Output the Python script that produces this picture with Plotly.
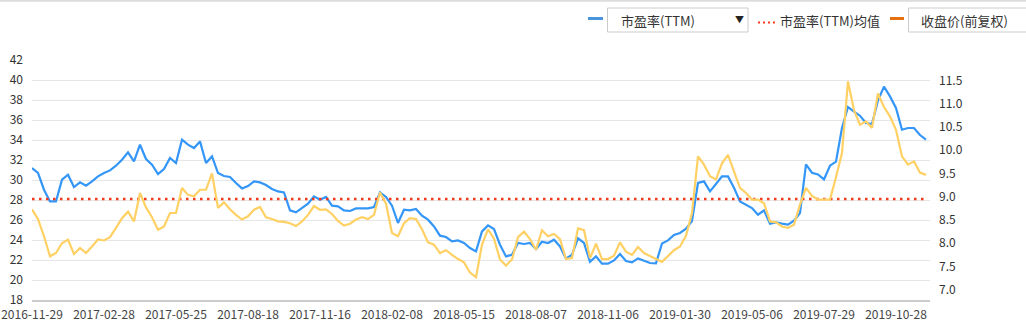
import pandas as pd
import plotly.graph_objects as go

# ---------------- data ----------------
TICK_DATES = ["2016-11-29", "2017-02-28", "2017-05-25", "2017-08-18", "2017-11-16",
              "2018-02-08", "2018-05-15", "2018-08-07", "2018-11-06", "2019-01-30",
              "2019-05-06", "2019-07-29", "2019-10-28"]

PE_TTM = [31.20, 30.70, 29.03, 27.86, 27.86, 30.03, 30.53, 29.30, 29.76, 29.43,
          29.86, 30.36, 30.70, 30.96, 31.43, 32.03, 32.76, 31.86, 33.53, 32.10,
          31.53, 30.60, 31.10, 32.20, 31.70, 34.03, 33.53, 33.20, 33.86, 31.70,
          32.36, 30.70, 30.40, 30.30, 29.70, 29.16, 29.40, 29.86, 29.76, 29.50,
          29.10, 28.86, 28.76, 26.96, 26.76, 27.16, 27.63, 28.36, 28.03, 28.30,
          27.43, 27.36, 26.96, 26.90, 27.16, 27.16, 27.16, 27.30, 28.76, 28.30,
          27.43, 25.70, 27.03, 26.96, 27.10, 26.43, 26.03, 25.36, 24.43, 24.30,
          23.86, 23.96, 23.70, 23.20, 22.86, 24.86, 25.46, 25.10, 23.53, 22.36,
          22.53, 23.70, 23.60, 23.70, 23.10, 23.83, 23.70, 24.03, 23.36, 22.13,
          22.53, 24.16, 23.70, 21.83, 22.36, 21.63, 21.63, 21.96, 22.60, 21.90,
          21.76, 22.16, 21.90, 21.70, 21.66, 23.66, 23.96, 24.50, 24.70, 25.13,
          25.90, 29.70, 29.86, 28.86, 29.60, 30.36, 30.36, 29.23, 27.86, 27.53,
          27.20, 26.53, 26.96, 25.63, 25.76, 25.63, 25.53, 25.93, 26.70, 31.56,
          30.73, 30.56, 30.06, 31.43, 31.83, 35.20, 37.30, 36.83, 36.43, 35.70,
          35.60, 37.96, 39.33, 38.36, 37.20, 35.03, 35.20, 35.20, 34.50, 34.03]

CLOSE_PRICE = [8.73, 8.52, 8.15, 7.72, 7.79, 8.00, 8.08, 7.77, 7.90, 7.79,
               7.93, 8.08, 8.06, 8.13, 8.33, 8.54, 8.68, 8.47, 9.08, 8.77,
               8.56, 8.29, 8.36, 8.65, 8.65, 9.19, 9.04, 9.01, 9.15, 9.15,
               9.50, 8.76, 8.88, 8.73, 8.61, 8.51, 8.58, 8.72, 8.78, 8.56,
               8.52, 8.47, 8.46, 8.43, 8.37, 8.47, 8.61, 8.80, 8.72, 8.73,
               8.63, 8.48, 8.38, 8.42, 8.51, 8.56, 8.52, 8.61, 9.09, 8.85,
               8.22, 8.15, 8.43, 8.54, 8.52, 8.30, 8.02, 7.97, 7.79, 7.85,
               7.75, 7.66, 7.59, 7.37, 7.27, 7.97, 8.30, 8.10, 7.65, 7.52,
               7.65, 8.13, 8.25, 8.09, 7.86, 8.28, 8.15, 8.20, 8.09, 7.66,
               7.68, 8.32, 8.28, 7.68, 7.99, 7.66, 7.66, 7.73, 8.02, 7.82,
               7.75, 7.92, 7.79, 7.72, 7.66, 7.60, 7.73, 7.85, 7.93, 8.16,
               8.65, 9.87, 9.69, 9.44, 9.37, 9.72, 9.90, 9.55, 9.19, 9.08,
               8.94, 8.94, 8.86, 8.47, 8.45, 8.36, 8.33, 8.40, 8.83, 9.19,
               9.02, 8.94, 8.94, 8.94, 9.42, 9.94, 11.48, 10.86, 10.55, 10.62,
               10.48, 11.22, 10.93, 10.73, 10.44, 9.87, 9.69, 9.76, 9.52, 9.47]

PE_MEAN = 28.1

LEFT_TICKS = [18, 20, 22, 24, 26, 28, 30, 32, 34, 36, 38, 40, 42]
RIGHT_TICKS = [7.0, 7.5, 8.0, 8.5, 9.0, 9.5, 10.0, 10.5, 11.0, 11.5]

# weekly sample dates between the labelled trading dates (category axis)
dates = []
for a, b in zip(TICK_DATES[:-1], TICK_DATES[1:]):
    dates += [d.strftime("%Y-%m-%d") for d in pd.date_range(a, b, periods=13)[:-1]]
dates += [d.strftime("%Y-%m-%d") for d in pd.date_range(TICK_DATES[-1], periods=6, freq="7D")]

# ---------------- layout helpers ----------------
W, H = 1026, 336
L, R, T, B = 32, 96, 60, 36
def px(x):
    return (x - L) / (W - L - R)
def py(y):
    return (H - B - y) / (H - T - B)

FONT = "Noto Sans CJK SC, Microsoft YaHei, sans-serif"
BLUE = "#3496F7"
YELLOW = "#FFD165"
RED = "#F5391C"

fig = go.Figure()
fig.add_trace(go.Scatter(x=dates, y=PE_TTM, mode="lines", name="市盈率(TTM)",
                         line=dict(color=BLUE, width=2.2), yaxis="y"))
fig.add_trace(go.Scatter(x=dates, y=[PE_MEAN] * len(dates), mode="lines", name="市盈率(TTM)均值",
                         line=dict(color=RED, width=2.5, dash="2.5px,4.5px"), yaxis="y"))
fig.add_trace(go.Scatter(x=dates, y=CLOSE_PRICE, mode="lines", name="收盘价(前复权)",
                         line=dict(color=YELLOW, width=2.2), yaxis="y2"))

shapes = [
    dict(type="line", xref="paper", yref="paper", x0=px(0), x1=px(W), y0=py(0.8), y1=py(0.8),
         line=dict(color="#dddddd", width=2)),
    dict(type="line", xref="paper", yref="paper", x0=px(588), x1=px(603), y0=py(18.5), y1=py(18.5),
         line=dict(color="#4A94DC", width=3)),
    dict(type="rect", xref="paper", yref="paper", x0=px(607.5), x1=px(748), y0=py(8), y1=py(32),
         line=dict(color="#cccccc", width=1), fillcolor="white"),
    dict(type="line", xref="paper", yref="paper", x0=px(758), x1=px(778), y0=py(22.5), y1=py(22.5),
         line=dict(color=RED, width=2, dash="2px,3px")),
    dict(type="line", xref="paper", yref="paper", x0=px(890), x1=px(904), y0=py(18.5), y1=py(18.5),
         line=dict(color="#E5700F", width=3)),
    dict(type="rect", xref="paper", yref="paper", x0=px(908.5), x1=px(1040), y0=py(8), y1=py(32),
         line=dict(color="#cccccc", width=1), fillcolor="white"),
]

ann_font = dict(family=FONT, size=13, color="#333333")
annotations = [
    dict(text="市盈率(TTM)", xref="paper", yref="paper", x=px(619), y=py(21),
         xanchor="left", yanchor="middle", showarrow=False, font=ann_font),
    dict(text="▼", xref="paper", yref="paper", x=px(739), y=py(20),
         xanchor="center", yanchor="middle", showarrow=False,
         font=dict(family=FONT, size=9, color="#222222")),
    dict(text="市盈率(TTM)均值", xref="paper", yref="paper", x=px(778), y=py(21),
         xanchor="left", yanchor="middle", showarrow=False, font=ann_font),
    dict(text="收盘价(前复权)", xref="paper", yref="paper", x=px(919), y=py(21),
         xanchor="left", yanchor="middle", showarrow=False, font=ann_font),
]

fig.update_layout(
    width=W, height=H,
    margin=dict(l=L, r=R, t=T, b=B, pad=0),
    paper_bgcolor="white", plot_bgcolor="white",
    showlegend=False,
    font=dict(family=FONT, size=12, color="#333333"),
    shapes=shapes,
    annotations=annotations,
    xaxis=dict(type="category", range=[0, len(dates) - 0.33], automargin=False,
               tickmode="array", tickvals=TICK_DATES, ticktext=TICK_DATES, tickangle=0,
               showgrid=False, zeroline=False, showline=True, linecolor="#cccccc", linewidth=2,
               ticks="", ticklabelstandoff=3,
               tickfont=dict(family=FONT, size=12, color="#444444")),
    yaxis=dict(range=[18, 42], tickvals=LEFT_TICKS, showgrid=True, gridcolor="#e6e6e6", gridwidth=1,
               zeroline=False, showline=False, ticks="", ticklabelstandoff=8, automargin=False,
               tickfont=dict(family=FONT, size=12, color="#333333")),
    yaxis2=dict(range=[6.78, 11.94], tickvals=RIGHT_TICKS, ticktext=[f"{v:.1f}" for v in RIGHT_TICKS],
                overlaying="y", side="right", showgrid=False, zeroline=False, showline=False,
                ticks="", ticklabelstandoff=8, automargin=False,
                tickfont=dict(family=FONT, size=12, color="#333333")),
)

fig.write_html("out.html", config={"displayModeBar": False})
